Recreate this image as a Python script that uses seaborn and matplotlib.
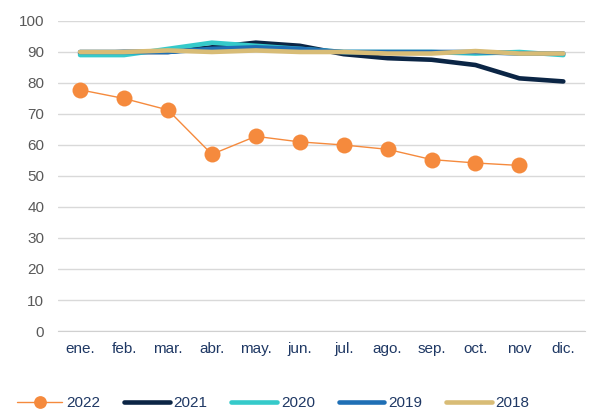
import pandas as pd
import matplotlib
matplotlib.use('Agg')
import matplotlib.pyplot as plt
import seaborn as sns

# Data
months = ['ene.', 'feb.', 'mar.', 'abr.', 'may.', 'jun.', 'jul.', 'ago.', 'sep.', 'oct.', 'nov', 'dic.']
v2022 = [77.8, 75.0, 71.3, 57.0, 62.8, 61.0, 60.0, 58.6, 55.3, 54.2, 53.4]
v2021 = [89.5, 90.0, 90.0, 91.5, 93.0, 92.0, 89.3, 88.0, 87.5, 85.8, 81.5, 80.5]
v2020 = [89.0, 89.0, 91.0, 93.0, 92.0, 91.0, 90.0, 90.0, 90.0, 89.5, 90.0, 89.0]
v2019 = [90.0, 90.0, 90.0, 91.0, 91.5, 91.0, 90.0, 90.0, 90.0, 90.0, 89.5, 89.5]
v2018 = [90.0, 90.0, 90.5, 90.0, 90.5, 90.0, 90.0, 89.5, 89.5, 90.3, 89.5, 89.5]

series = [
    ('2022', v2022, '#F58A3D'),
    ('2021', v2021, '#0B2545'),
    ('2020', v2020, '#35CACA'),
    ('2019', v2019, '#1F6FB5'),
    ('2018', v2018, '#D8BC76'),
]

sns.set_style('white')
plt.rcParams['font.family'] = ['Liberation Sans', 'DejaVu Sans']

fig = plt.figure(figsize=(5.93, 4.09), dpi=100)
ax = fig.add_axes([0.098, 0.1907, 0.889, 0.758])

for name, vals, col in series:
    df = pd.DataFrame({'x': range(len(vals)), 'y': vals})
    if name == '2022':
        sns.lineplot(data=df, x='x', y='y', ax=ax, color=col, linewidth=1.0,
                     marker='o', markersize=11.5, markeredgewidth=0, label=name, zorder=5)
    else:
        sns.lineplot(data=df, x='x', y='y', ax=ax, color=col, linewidth=3.3,
                     label=name, zorder=3, solid_capstyle='round')

ax.set_xlim(-0.5, 11.5)
ax.set_ylim(0, 100)
ax.set_yticks(range(0, 101, 10))
ax.set_xticks(range(12))
ax.set_xticklabels(months)
ax.set_xticks([i - 0.5 for i in range(13)], minor=True)
ax.tick_params(axis='x', which='major', length=0, pad=8, labelsize=11, labelcolor='#1F3864')
ax.tick_params(axis='x', which='minor', length=4, color='#D0D0D0', width=1)
ax.tick_params(axis='y', length=0, pad=10, labelsize=11, labelcolor='#595959')
ax.grid(axis='y', color='#D9D9D9', linewidth=1)
ax.set_axisbelow(True)
for s in ['top', 'right', 'left']:
    ax.spines[s].set_visible(False)
ax.spines['bottom'].set_color('#D0D0D0')
ax.set_xlabel('')
ax.set_ylabel('')

leg = ax.legend(loc='center left', bbox_to_anchor=(0.028, 0.015), bbox_transform=fig.transFigure,
                ncol=5, frameon=False, fontsize=11, handlelength=3.0, columnspacing=1.55,
                handletextpad=0.25, borderpad=0, borderaxespad=0, labelcolor='#1F3864',
                markerscale=0.8)

fig.savefig('out.png', dpi=100)
